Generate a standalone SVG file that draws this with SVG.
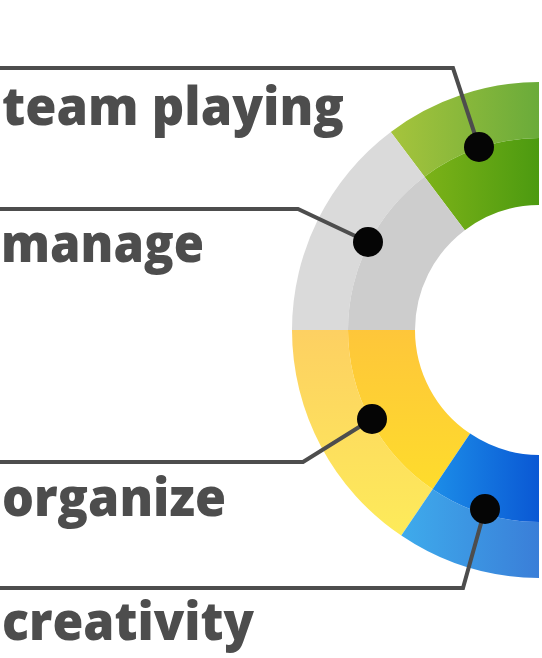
<svg xmlns="http://www.w3.org/2000/svg" width="542" height="658" viewBox="0 0 542 658">
<defs>
<style>
.lbl{font-family:"Open Sans","Noto Sans","DejaVu Sans",sans-serif;font-weight:800;font-size:53px;fill:#4d4d4d}
.conn{fill:none;stroke:#4d4d4d;stroke-width:4;stroke-linejoin:miter}
.dot{fill:#050505}
</style>
<linearGradient id="gO" x1="0" y1="0" x2="1" y2="0"><stop offset="0" stop-color="#a6c43c"/><stop offset="1" stop-color="#6aab3a"/></linearGradient>
<linearGradient id="gI" x1="0" y1="0" x2="1" y2="0"><stop offset="0" stop-color="#7cb218"/><stop offset="1" stop-color="#4c9a10"/></linearGradient>
<linearGradient id="yO" x1="0" y1="0" x2="0" y2="1"><stop offset="0" stop-color="#fdd062"/><stop offset="1" stop-color="#fdeb5a"/></linearGradient>
<linearGradient id="yI" x1="0" y1="0" x2="0" y2="1"><stop offset="0" stop-color="#fec63a"/><stop offset="1" stop-color="#fedc2c"/></linearGradient>
<linearGradient id="bO" x1="0" y1="0" x2="1" y2="0"><stop offset="0" stop-color="#3eabec"/><stop offset="1" stop-color="#3a7ed8"/></linearGradient>
<linearGradient id="bI" x1="0" y1="0" x2="1" y2="0"><stop offset="0" stop-color="#1c8de8"/><stop offset="1" stop-color="#0a58d4"/></linearGradient>
</defs>
<rect width="542" height="658" fill="#ffffff"/>
<g id="ring">
<g id="seg-green">
<path fill="url(#gO)" d="M539 82 A248 248 0 0 0 390.8 131.9 L424.5 176.7 A192 192 0 0 1 539 138 Z"/>
<path fill="url(#gI)" d="M539 138 A192 192 0 0 0 424.5 176.7 L464.8 230.2 A125 125 0 0 1 539 205 Z"/>
</g>
<g id="seg-gray">
<path fill="#dadada" d="M390.8 131.9 A248 248 0 0 0 292 330 L348 330 A192 192 0 0 1 424.5 176.7 Z"/>
<path fill="#cdcdcd" d="M424.5 176.7 A192 192 0 0 0 348 330 L415 330 A125 125 0 0 1 464.8 230.2 Z"/>
</g>
<g id="seg-yellow">
<path fill="url(#yO)" d="M292 330 A248 248 0 0 0 401.3 535.6 L432.6 489.2 A192 192 0 0 1 348 330 Z"/>
<path fill="url(#yI)" d="M348 330 A192 192 0 0 0 432.6 489.2 L470.1 433.6 A125 125 0 0 1 415 330 Z"/>
</g>
<g id="seg-blue">
<path fill="url(#bO)" d="M401.3 535.6 A248 248 0 0 0 539 578 L539 522 A192 192 0 0 1 432.6 489.2 Z"/>
<path fill="url(#bI)" d="M432.6 489.2 A192 192 0 0 0 539 522 L539 455 A125 125 0 0 1 470.1 433.6 Z"/>
</g>
</g>
<g id="connectors">
<path class="conn" d="M0 68 H453 L479 147"/>
<path class="conn" d="M0 209 H298 L368 242"/>
<path class="conn" d="M0 462 H303 L372 419"/>
<path class="conn" d="M0 588 H463 L485 509"/>
</g>
<g id="node-team-playing">
<circle class="dot" cx="479" cy="147" r="15"/>
<text class="lbl" x="2" y="125" textLength="342" lengthAdjust="spacingAndGlyphs">team playing</text>
</g>
<g id="node-manage">
<circle class="dot" cx="368" cy="242" r="15"/>
<text class="lbl" x="1" y="262" textLength="203" lengthAdjust="spacingAndGlyphs">manage</text>
</g>
<g id="node-organize">
<circle class="dot" cx="372" cy="419" r="15"/>
<text class="lbl" x="2" y="516" textLength="224" lengthAdjust="spacingAndGlyphs">organize</text>
</g>
<g id="node-creativity">
<circle class="dot" cx="485" cy="509" r="15"/>
<text class="lbl" x="2" y="640" textLength="252" lengthAdjust="spacingAndGlyphs">creativity</text>
</g>
</svg>
